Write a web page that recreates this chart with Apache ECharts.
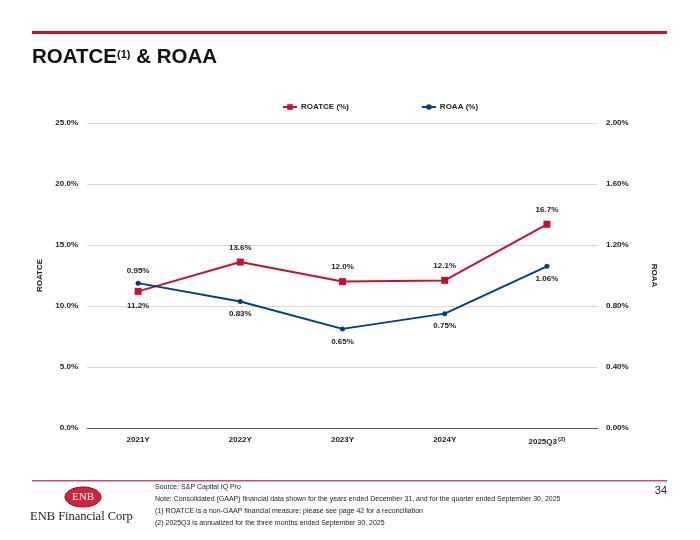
<!DOCTYPE html>
<html>
<head>
<meta charset="utf-8">
<script src="https://cdn.jsdelivr.net/npm/echarts@6/dist/echarts.min.js"></script>
<style>
html,body{margin:0;padding:0;background:#fff;}
#main{width:700px;height:540px;}
</style>
</head>
<body>
<div id="main"></div>
<script>
var categories = ['2021Y', '2022Y', '2023Y', '2024Y', '2025Q3'];
var roatce = [11.2, 13.6, 12.0, 12.1, 16.7];
var roaa = [0.95, 0.83, 0.65, 0.75, 1.06];
var roatceLabelPos = ['bottom', 'top', 'top', 'top', 'top'];
var roaaLabelPos = ['top', 'bottom', 'bottom', 'bottom', 'bottom'];
var footnotes = [
  'Source: S&P Capital IQ Pro',
  'Note: Consolidated (GAAP) financial data shown for the years ended December 31, and for the quarter ended September 30, 2025',
  '(1) ROATCE is a non-GAAP financial measure; please see page 42 for a reconciliation',
  '(2) 2025Q3 is annualized for the three months ended September 30, 2025'
];

var RED = '#c8102e';
var BLUE = '#003f87';
var FONT = 'Liberation Sans, Arial, sans-serif';

var chart = echarts.init(document.getElementById('main'));

var graphics = [
  {type:'rect', shape:{x:32, y:31, width:635, height:3}, style:{fill:RED}},
  {type:'rect', shape:{x:32, y:480, width:635, height:1.5}, style:{fill:'#c9506a'}},
  {type:'ellipse', shape:{cx:83, cy:497, rx:18, ry:10}, style:{fill:'#d0243c', stroke:'#8a0c20', lineWidth:1}},
  {type:'text', x:83, y:497, style:{text:'ENB', fill:'#fff', font:'11px Liberation Serif, serif', align:'center', verticalAlign:'middle'}},
  {type:'text', x:30, y:517, style:{text:'ENB Financial Corp', fill:'#222', font:'12.5px Liberation Serif, serif', verticalAlign:'middle'}},
  {type:'text', x:667, y:491, style:{text:'34', fill:'#222', font:'11px ' + FONT, align:'right', verticalAlign:'middle'}}
];
var fy = [487, 499.5, 511.5, 523];
footnotes.forEach(function(t, i){
  graphics.push({type:'text', x:155, y:fy[i], style:{text:t, fill:'#222', font:'7px ' + FONT, verticalAlign:'middle'}});
});

var option = {
  animation:false,
  backgroundColor:'#fff',
  textStyle:{fontFamily:FONT},
  title:{
    text:'{m|ROATCE}{s|(1)}{m| & ROAA}',
    left:27, top:42,
    textStyle:{rich:{
      m:{fontSize:20.5, fontWeight:'bold', color:'#111', fontFamily:FONT, verticalAlign:'bottom'},
      s:{fontSize:11, fontWeight:'bold', color:'#111', fontFamily:FONT, padding:[0,0,8,0], verticalAlign:'bottom'}
    }}
  },
  legend:{
    left:277, top:98, itemGap:72, itemWidth:14, itemHeight:7,
    textStyle:{fontSize:8, fontWeight:'bold', color:'#222', fontFamily:FONT, padding:[0,0,0,-1]},
    data:['ROATCE (%)', 'ROAA (%)']
  },
  grid:{left:87, right:102, top:123, bottom:112, containLabel:false},
  xAxis:{
    type:'category', data:categories, boundaryGap:true,
    axisLine:{lineStyle:{color:'#555', width:1}},
    axisTick:{show:false},
    axisLabel:{
      margin:8, color:'#222', fontSize:8, fontWeight:'bold', fontFamily:FONT,
      formatter:function(v){ return v === '2025Q3' ? '{a|2025Q3}{s|(2)}' : v; },
      rich:{a:{fontSize:8, fontWeight:'bold', color:'#222', fontFamily:FONT}, s:{fontSize:6, fontWeight:'bold', color:'#222', padding:[0,0,5,1], fontFamily:FONT}}
    }
  },
  yAxis:[
    {type:'value', min:0, max:25, interval:5, position:'left',
     name:'ROATCE', nameLocation:'middle', nameGap:43, nameRotate:90,
     nameTextStyle:{fontSize:8, fontWeight:'bold', color:'#222', fontFamily:FONT},
     axisLine:{show:false}, axisTick:{show:false},
     splitLine:{lineStyle:{color:'#d9d9d9', width:1}},
     axisLabel:{margin:9, color:'#222', fontSize:8, fontWeight:'bold', fontFamily:FONT, formatter:function(v){return v.toFixed(1)+'%';}}
    },
    {type:'value', min:0, max:2, interval:0.4, position:'right',
     name:'ROAA', nameLocation:'middle', nameGap:52, nameRotate:-90,
     nameTextStyle:{fontSize:8, fontWeight:'bold', color:'#222', fontFamily:FONT},
     axisLine:{show:false}, axisTick:{show:false}, splitLine:{show:false},
     axisLabel:{margin:8, color:'#222', fontSize:8, fontWeight:'bold', fontFamily:FONT, formatter:function(v){return v.toFixed(2)+'%';}}
    }
  ],
  series:[
    {name:'ROATCE (%)', type:'line', yAxisIndex:0,
     data:roatce.map(function(v,i){return {value:v, label:{position:roatceLabelPos[i]}};}),
     symbol:'rect', symbolSize:7, lineStyle:{color:RED, width:2}, itemStyle:{color:RED},
     label:{show:true, distance:7, fontSize:8, fontWeight:'bold', color:'#222', fontFamily:FONT, formatter:function(p){return p.value.toFixed(1)+'%';}}
    },
    {name:'ROAA (%)', type:'line', yAxisIndex:1,
     data:roaa.map(function(v,i){return {value:v, label:{position:roaaLabelPos[i]}};}),
     symbol:'circle', symbolSize:5, lineStyle:{color:BLUE, width:2}, itemStyle:{color:BLUE},
     label:{show:true, distance:6, fontSize:8, fontWeight:'bold', color:'#222', fontFamily:FONT, formatter:function(p){return p.value.toFixed(2)+'%';}}
    }
  ],
  graphic:graphics
};
chart.setOption(option);
</script>
</body>
</html>
